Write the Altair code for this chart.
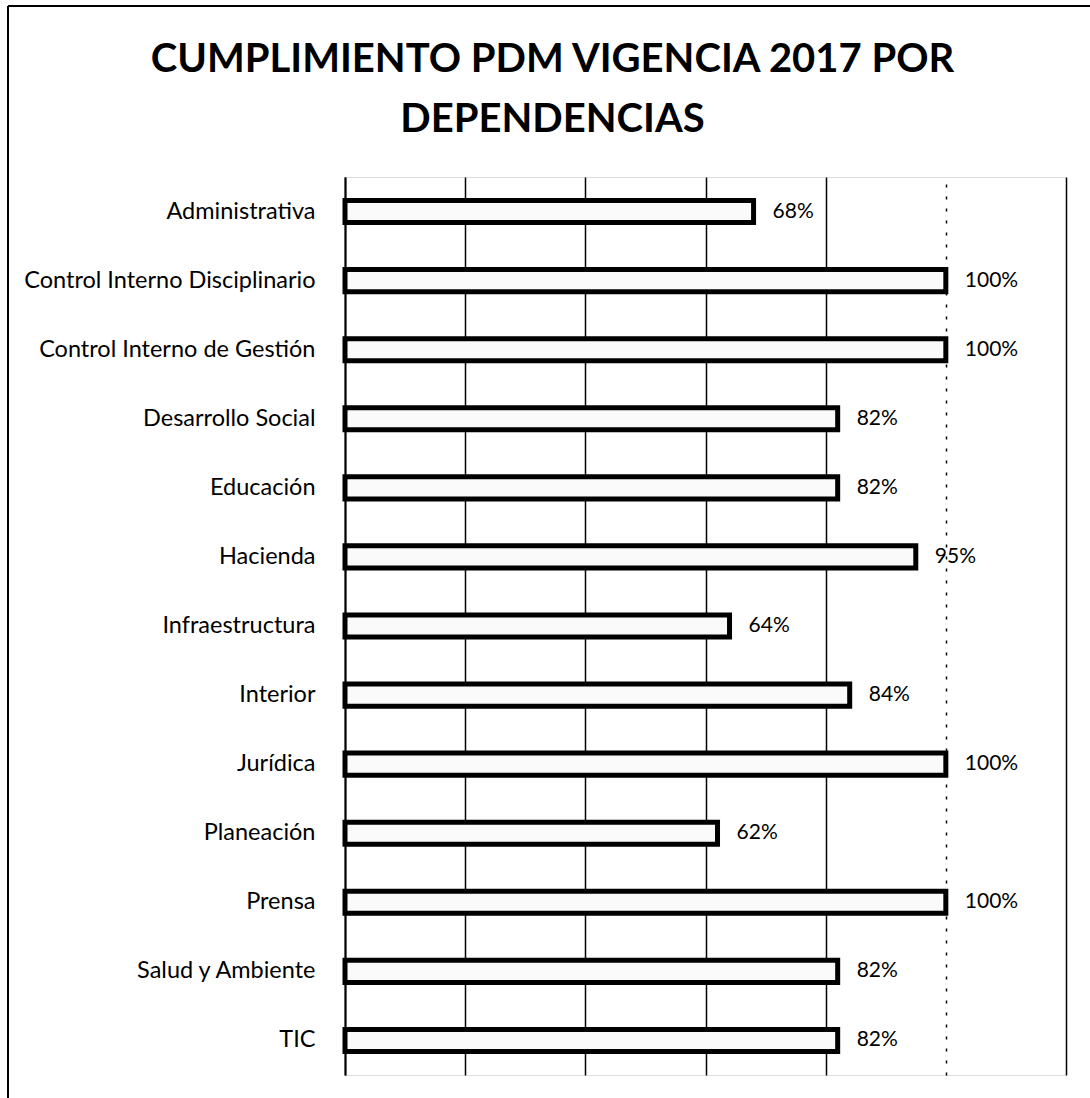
import altair as alt
import pandas as pd

dependencias = [
    "Administrativa",
    "Control Interno Disciplinario",
    "Control Interno de Gestión",
    "Desarrollo Social",
    "Educación",
    "Hacienda",
    "Infraestructura",
    "Interior",
    "Jurídica",
    "Planeación",
    "Prensa",
    "Salud y Ambiente",
    "TIC",
]
cumplimiento = [68, 100, 100, 82, 82, 95, 64, 84, 100, 62, 100, 82, 82]
etiquetas = [f"{v}%" for v in cumplimiento]
grid_values = [0, 20, 40, 60, 80, 100, 120]

df = pd.DataFrame({"dep": dependencias, "val": cumplimiento, "lab": etiquetas})

FONT = "Lato"
W, H = 721, 898

x_enc = alt.X(
    "val:Q",
    scale=alt.Scale(domain=[0, 120], nice=False, zero=True),
    axis=alt.Axis(
        values=grid_values,
        labels=False,
        ticks=False,
        domain=False,
        title=None,
        grid=True,
        gridColor="black",
        gridWidth=1.5,
        gridOpacity=1,
        gridDash=alt.condition("datum.value == 100", alt.value([3, 9]), alt.value([])),
    ),
)
y_enc = alt.Y(
    "dep:N",
    sort=dependencias,
    scale=alt.Scale(paddingInner=0.68, paddingOuter=0.34),
    axis=alt.Axis(
        title=None,
        ticks=False,
        labelPadding=30,
        labelFont=FONT,
        labelFontSize=23.5,
        labelColor="black",
        labelLimit=400,
        domain=True,
        domainColor="black",
        domainWidth=2,
        grid=False,
    ),
)

base = alt.Chart(df)

bars = base.mark_bar(
    fill="#fafafa", stroke="black", strokeWidth=5, cornerRadius=0
).encode(x=x_enc, y=y_enc)

texts = base.mark_text(
    align="left", baseline="middle", dx=19, font=FONT, fontSize=21, color="black"
).encode(x="val:Q", y=alt.Y("dep:N", sort=dependencias), text="lab:N")

top_border = alt.Chart(df).mark_rule(color="black", strokeWidth=1.5).encode(
    x=alt.value(-337), x2=alt.value(745), y=alt.value(-171)
)
left_border = alt.Chart(df).mark_rule(color="black", strokeWidth=1.5).encode(
    x=alt.value(-337), y=alt.value(-171), y2=alt.value(921)
)

chart = (
    alt.layer(bars, texts, top_border, left_border)
    .properties(
        width=W,
        height=H,
        title=alt.TitleParams(
            text=["CUMPLIMIENTO PDM VIGENCIA 2017 POR", "DEPENDENCIAS"],
            font=FONT,
            fontSize=40,
            fontWeight="bold",
            color="black",
            anchor="middle",
            frame="group",
            baseline="alphabetic",
            lineHeight=60,
            dx=-153,
            offset=0,
            dy=167,
        ),
        autosize=alt.AutoSizeParams(type="none"),
        padding={"left": 345, "top": 177, "right": 24, "bottom": 23},
    )
    .configure_view(stroke=None)
    .configure(background="white")
)

chart.save("out.html", embed_options={"renderer": "svg", "actions": False})
